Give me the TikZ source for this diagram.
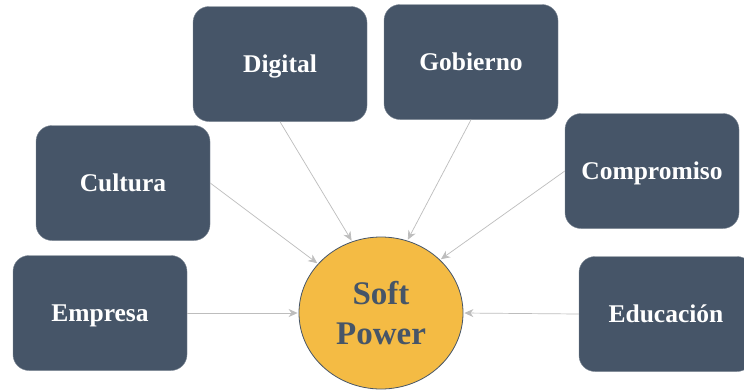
\documentclass[tikz,border=0pt]{standalone}
\usepackage{fontspec}
\setmainfont{Liberation Serif}
\usetikzlibrary{arrows.meta,shapes.geometric}
\definecolor{slate}{HTML}{465568}
\definecolor{sun}{HTML}{F4BB44}
\definecolor{wire}{HTML}{BDBDBD}
\tikzset{
  box/.style={draw=slate!70, fill=slate, rounded corners=16pt, minimum width=174pt, minimum height=115pt, text depth=0pt, text=white, font=\bfseries\fontsize{25.5}{30}\selectfont},
  hub/.style={ellipse, draw=slate, line width=0.8pt, fill=sun, minimum width=164pt, minimum height=152pt, inner sep=0pt, text=slate, align=center, font=\bfseries\fontsize{33}{40}\selectfont},
  link/.style={-{Stealth[length=9pt,width=8pt]}, draw=wire, line width=0.7pt, shorten >=1pt}
}
\begin{document}
\begin{tikzpicture}[x=1pt,y=-1pt]
            \clip (0,0) rectangle (744,389);
            \fill [white] (0,0) rectangle (744,389);
            \node [box] (digital) at (280,64) {Digital};
            \node [box] (gobierno) at (471,62) {Gobierno};
            \node [box] (cultura) at (123,183) {Cultura};
            \node [box] (empresa) at (100,313) {Empresa};
            \node [box] (compromiso) at (652,171) {Compromiso};
            \node [box] (educacion) at (666,314) {Educación};
            \node [hub] (soft) at (381,313) {Soft\\Power};
            \draw [link] (empresa.east) -- (soft.180);
            \draw [link] (cultura.east) -- (soft.142);
            \draw [link] (digital.south) -- (soft.112);
            \draw [link] (gobierno.south) -- (soft.70);
            \draw [link] (compromiso.west) -- (soft.42);
            \draw [link] (educacion.west) -- (soft.0);
        \end{tikzpicture}
\end{document}
